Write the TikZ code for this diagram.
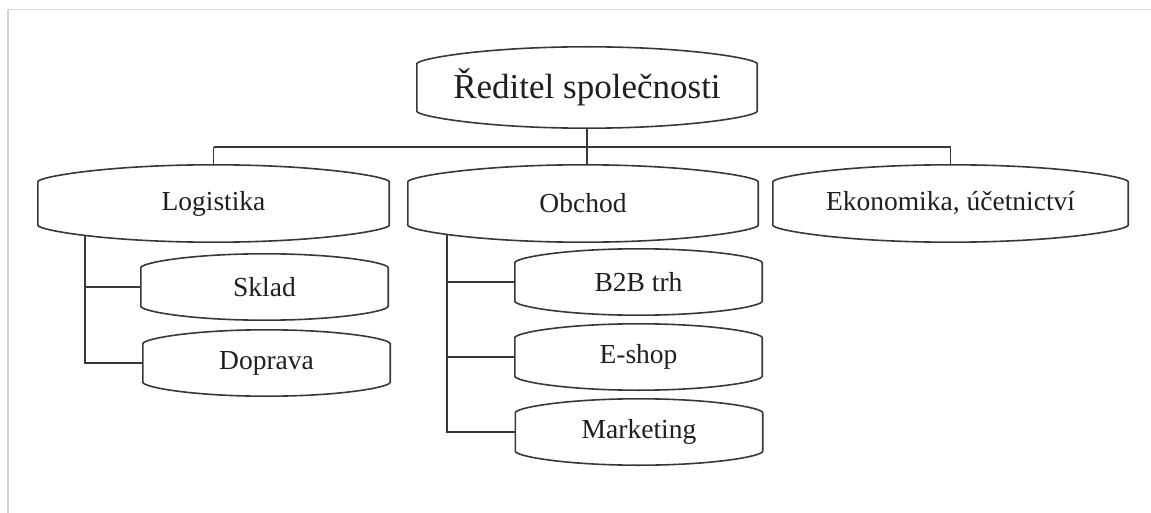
\documentclass[tikz,border=0pt]{standalone}
\usepackage{fontspec}
\setmainfont{Liberation Serif}
\usetikzlibrary{calc}
\tikzset{
  orgline/.style={draw=black!78, line width=1.6pt},
  conn/.style={draw=black!78, line width=1.6pt},
  box/.style={rectangle, inner sep=0pt, font=\fontsize{27.5}{30}\selectfont, text=black!88},
}
% outline: #1 node name, #2 offset of straight side ends from top/bottom
\newcommand\orgoutline[2]{%
  \path[orgline, fill=white] let \p1=(#1.north west), \p2=(#1.south east) in
   (\x1,\y2+#2pt) -- (\x1,\y1-#2pt)
   .. controls (\x1,\y1-#2pt+5pt) and ({\x1+0.2*(\x2-\x1)},\y1) .. ({(\x1+\x2)/2},\y1)
   .. controls ({\x2-0.2*(\x2-\x1)},\y1) and (\x2,\y1-#2pt+5pt) .. (\x2,\y1-#2pt)
   -- (\x2,\y2+#2pt)
   .. controls (\x2,\y2+#2pt-5pt) and ({\x2-0.2*(\x2-\x1)},\y2) .. ({(\x1+\x2)/2},\y2)
   .. controls ({\x1+0.2*(\x2-\x1)},\y2) and (\x1,\y2+#2pt-5pt) .. cycle;}
\begin{document}
\begin{tikzpicture}[x=1pt,y=1pt]
\useasboundingbox (0,0) rectangle (1151,-513);
% faint frame
\draw[black!12, line width=1pt] (7,-10) -- (1151,-10);
\draw[black!18, line width=2.5pt] (8,-10) -- (8,-513);
% nodes (positions in pixel coordinates, y downward)
\node[box, minimum width=340pt, minimum height=81pt, font=\fontsize{35}{38}\selectfont] (ceo) at (587,-87.5) {Ředitel společnosti};
\node[box, minimum width=351pt, minimum height=77pt] (log) at (213.5,-203.5) {Logistika};
\node[box, minimum width=350pt, minimum height=77pt] (obch) at (583,-203.5) {Obchod};
\node[box, minimum width=355pt, minimum height=77pt] (ekon) at (950.5,-203.5) {Ekonomika, účetnictví};
\node[box, minimum width=247pt, minimum height=66pt] (sklad) at (264.5,-287) {Sklad};
\node[box, minimum width=247pt, minimum height=66pt] (dopr) at (266.5,-363) {Doprava};
\node[box, minimum width=247pt, minimum height=66pt] (b2b) at (638.5,-282) {B2B trh};
\node[box, minimum width=247pt, minimum height=66pt] (eshop) at (638.5,-357) {E-shop};
\node[box, minimum width=247pt, minimum height=66pt] (mark) at (639,-432) {Marketing};
% connectors
\coordinate (bus) at ($(ceo.south)+(0,-19)$);
\draw[conn] (ceo.south) -- (ceo.south |- obch.north);
\draw[conn] (bus -| log.north) -- (bus -| ekon.north);
\draw[conn] (bus -| log.north) -- (log.north);
\draw[conn] (bus -| ekon.north) -- (ekon.north);
\coordinate (logt) at ($(log.south west)+(47,20)$);
\draw[conn] (logt) |- (dopr.west);
\draw[conn] (logt |- sklad.west) -- (sklad.west);
\coordinate (obcht) at ($(obch.south west)+(39,20)$);
\draw[conn] (obcht) |- (mark.west);
\draw[conn] (obcht |- b2b.west) -- (b2b.west);
\draw[conn] (obcht |- eshop.west) -- (eshop.west);
% outlines drawn over the line ends
\orgoutline{ceo}{17}
\orgoutline{log}{17}
\orgoutline{obch}{17}
\orgoutline{ekon}{17}
\orgoutline{sklad}{14}
\orgoutline{dopr}{14}
\orgoutline{b2b}{14}
\orgoutline{eshop}{14}
\orgoutline{mark}{14}
% texts on top
\node[box, font=\fontsize{35}{38}\selectfont] at (ceo) {Ředitel společnosti};
\node[box] at (log) {Logistika};
\node[box] at (obch) {Obchod};
\node[box] at (ekon) {Ekonomika, účetnictví};
\node[box] at (sklad) {Sklad};
\node[box] at (dopr) {Doprava};
\node[box] at (b2b) {B2B trh};
\node[box] at (eshop) {E-shop};
\node[box] at (mark) {Marketing};
\end{tikzpicture}
\end{document}
